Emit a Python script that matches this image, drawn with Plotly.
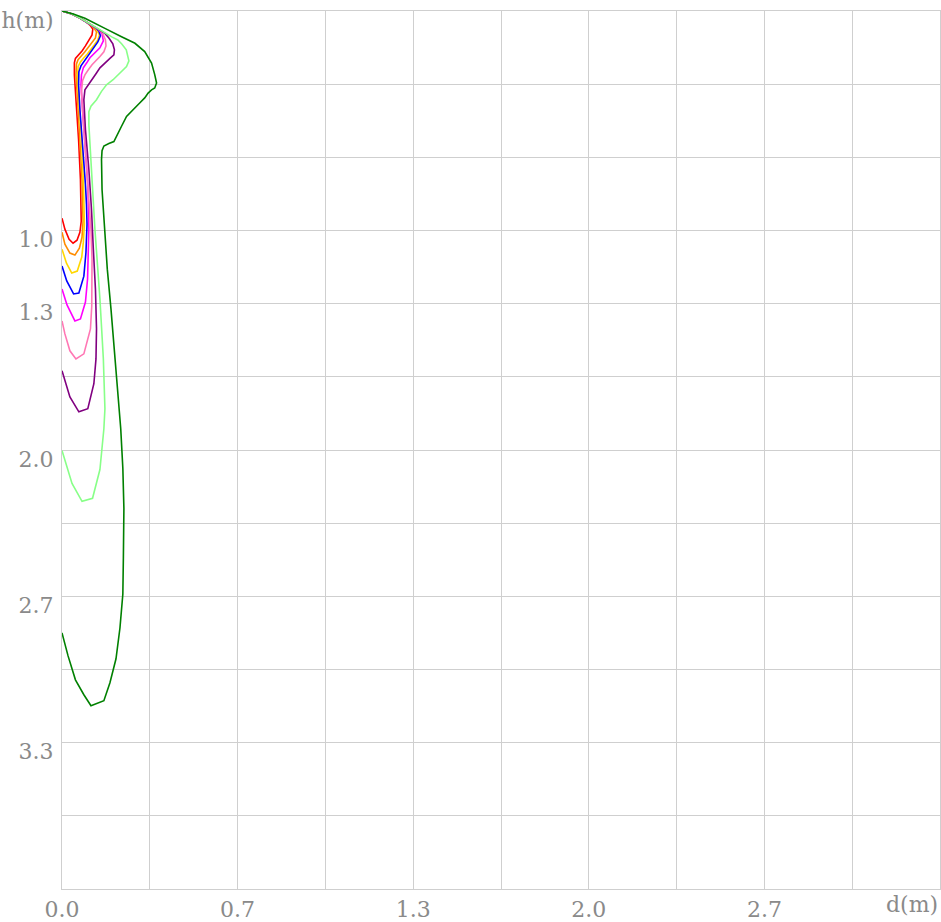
import plotly.graph_objects as go

# depth d (m) and height h (m) along each contour
red_d = [0, 0.038, 0.068, 0.091, 0.106, 0.117, 0.114, 0.102, 0.089, 0.076, 0.063, 0.051, 0.047, 0.047, 0.053, 0.063, 0.070, 0.072, 0.073, 0.068, 0.057, 0.042, 0.027, 0.011, 0]
red_h = [0, 0.014, 0.032, 0.048, 0.064, 0.082, 0.109, 0.136, 0.159, 0.182, 0.200, 0.216, 0.236, 0.290, 0.404, 0.586, 0.767, 0.881, 0.958, 1.008, 1.044, 1.058, 1.040, 0.994, 0.944]

orange_d = [0, 0.038, 0.068, 0.091, 0.106, 0.121, 0.131, 0.127, 0.114, 0.100, 0.087, 0.074, 0.061, 0.055, 0.053, 0.059, 0.068, 0.076, 0.078, 0.080, 0.076, 0.066, 0.049, 0.030, 0.011, 0]
orange_h = [0, 0.014, 0.032, 0.048, 0.061, 0.077, 0.095, 0.123, 0.145, 0.168, 0.186, 0.204, 0.222, 0.241, 0.291, 0.404, 0.586, 0.767, 0.881, 0.958, 1.031, 1.081, 1.112, 1.103, 1.062, 1.008]

gold_d = [0, 0.038, 0.068, 0.091, 0.106, 0.121, 0.134, 0.142, 0.136, 0.123, 0.110, 0.097, 0.083, 0.070, 0.061, 0.059, 0.064, 0.074, 0.081, 0.083, 0.085, 0.081, 0.075, 0.058, 0.037, 0.017, 0]
gold_h = [0, 0.014, 0.032, 0.048, 0.061, 0.073, 0.089, 0.109, 0.132, 0.154, 0.177, 0.195, 0.213, 0.232, 0.254, 0.313, 0.404, 0.586, 0.767, 0.881, 0.972, 1.053, 1.121, 1.185, 1.194, 1.149, 1.085]

blue_d = [0, 0.038, 0.068, 0.091, 0.106, 0.125, 0.140, 0.146, 0.136, 0.123, 0.110, 0.097, 0.083, 0.072, 0.064, 0.063, 0.068, 0.080, 0.089, 0.093, 0.095, 0.091, 0.083, 0.064, 0.044, 0.018, 0]
blue_h = [0, 0.014, 0.032, 0.048, 0.061, 0.075, 0.091, 0.113, 0.141, 0.163, 0.186, 0.209, 0.232, 0.250, 0.277, 0.336, 0.449, 0.631, 0.790, 0.881, 0.972, 1.099, 1.208, 1.285, 1.289, 1.230, 1.162]

magenta_d = [0, 0.038, 0.068, 0.091, 0.106, 0.125, 0.140, 0.152, 0.157, 0.144, 0.125, 0.106, 0.094, 0.081, 0.074, 0.072, 0.078, 0.089, 0.098, 0.100, 0.102, 0.097, 0.089, 0.070, 0.049, 0.019, 0]
magenta_h = [0, 0.014, 0.032, 0.048, 0.061, 0.075, 0.086, 0.104, 0.136, 0.168, 0.191, 0.213, 0.236, 0.259, 0.290, 0.336, 0.449, 0.631, 0.790, 0.881, 0.994, 1.221, 1.326, 1.403, 1.412, 1.339, 1.267]

pink_d = [0, 0.038, 0.068, 0.091, 0.106, 0.125, 0.144, 0.155, 0.165, 0.167, 0.159, 0.144, 0.129, 0.114, 0.100, 0.087, 0.078, 0.074, 0.080, 0.091, 0.102, 0.110, 0.114, 0.113, 0.108, 0.083, 0.053, 0.030, 0.011, 0]
pink_h = [0, 0.014, 0.032, 0.048, 0.061, 0.075, 0.088, 0.104, 0.132, 0.159, 0.186, 0.207, 0.225, 0.245, 0.268, 0.291, 0.318, 0.368, 0.495, 0.677, 0.858, 0.994, 1.131, 1.344, 1.448, 1.562, 1.585, 1.548, 1.471, 1.412]

purple_d = [0, 0.038, 0.068, 0.091, 0.106, 0.125, 0.144, 0.163, 0.178, 0.193, 0.199, 0.197, 0.182, 0.163, 0.144, 0.129, 0.114, 0.100, 0.087, 0.083, 0.089, 0.102, 0.112, 0.119, 0.127, 0.131, 0.129, 0.121, 0.098, 0.064, 0.030, 0]
purple_h = [0, 0.014, 0.032, 0.048, 0.061, 0.075, 0.088, 0.102, 0.123, 0.150, 0.177, 0.200, 0.216, 0.236, 0.259, 0.286, 0.313, 0.336, 0.359, 0.404, 0.540, 0.722, 0.904, 1.085, 1.267, 1.448, 1.585, 1.698, 1.812, 1.826, 1.758, 1.639]

lightgreen_d = [0, 0.038, 0.068, 0.091, 0.106, 0.125, 0.144, 0.163, 0.189, 0.212, 0.227, 0.244, 0.254, 0.245, 0.232, 0.213, 0.194, 0.169, 0.150, 0.131, 0.110, 0.102, 0.102, 0.114, 0.125, 0.144, 0.157, 0.163, 0.159, 0.144, 0.116, 0.076, 0.038, 0]
lightgreen_h = [0, 0.014, 0.032, 0.048, 0.061, 0.075, 0.088, 0.102, 0.118, 0.132, 0.150, 0.177, 0.227, 0.253, 0.268, 0.291, 0.313, 0.336, 0.366, 0.404, 0.434, 0.459, 0.518, 0.767, 0.994, 1.312, 1.585, 1.812, 1.903, 2.089, 2.220, 2.234, 2.152, 2.002]

green_d = [0, 0.043, 0.087, 0.112, 0.163, 0.226, 0.277, 0.314, 0.340, 0.352, 0.359, 0.352, 0.340, 0.327, 0.314, 0.295, 0.277, 0.245, 0.226, 0.208, 0.197, 0.178, 0.159, 0.152, 0.150, 0.152, 0.161, 0.172, 0.186, 0.199, 0.212, 0.223, 0.231, 0.235, 0.233, 0.231, 0.220, 0.205, 0.182, 0.159, 0.110, 0.083, 0.051, 0.023, 0]
green_h = [0, 0.014, 0.033, 0.049, 0.079, 0.117, 0.147, 0.185, 0.237, 0.290, 0.328, 0.351, 0.359, 0.374, 0.396, 0.419, 0.442, 0.480, 0.525, 0.572, 0.595, 0.604, 0.615, 0.636, 0.677, 0.813, 0.994, 1.176, 1.358, 1.539, 1.721, 1.903, 2.084, 2.266, 2.493, 2.656, 2.811, 2.951, 3.060, 3.142, 3.165, 3.115, 3.047, 2.938, 2.833]

series = [
    ("red", red_d, red_h),
    ("#FF8C00", orange_d, orange_h),
    ("#FFD700", gold_d, gold_h),
    ("#0000FF", blue_d, blue_h),
    ("#FF00FF", magenta_d, magenta_h),
    ("#FF77B4", pink_d, pink_h),
    ("#800080", purple_d, purple_h),
    ("#88FF88", lightgreen_d, lightgreen_h),
    ("#008000", green_d, green_h),
]

x_tickvals = [k / 3 for k in range(11)]
x_ticktext = ["0.0", "", "0.7", "", "1.3", "", "2.0", "", "2.7", "", ""]
y_tickvals = [k / 3 for k in range(13)]
y_ticktext = ["h(m)", "", "", "1.0", "1.3", "", "2.0", "", "2.7", "", "3.3", "", ""]

FONT = dict(family="DejaVu Serif", size=22, color="#8a8a8a")
GRID = "#cfcfcf"

fig = go.Figure()
for color, d, h in series:
    fig.add_trace(go.Scatter(x=d, y=h, mode="lines",
                             line=dict(color=color, width=1.6),
                             showlegend=False, hoverinfo="skip"))

fig.update_layout(
    width=941, height=922,
    margin=dict(l=62, r=0, t=11, b=30),
    plot_bgcolor="white", paper_bgcolor="white",
    font=FONT,
    xaxis=dict(range=[0, 10 / 3], tickmode="array", tickvals=x_tickvals, ticktext=x_ticktext,
               showgrid=True, gridcolor=GRID, gridwidth=1, zeroline=False,
               showline=True, linecolor=GRID, linewidth=1, mirror=True,
               ticks="", tickfont=FONT, ticklabelstandoff=1),
    yaxis=dict(range=[4, 0], tickmode="array", tickvals=y_tickvals, ticktext=y_ticktext,
               showgrid=True, gridcolor=GRID, gridwidth=1, zeroline=False,
               showline=True, linecolor=GRID, linewidth=1, mirror=True,
               ticks="", tickfont=FONT, ticklabelshift=-9, ticklabelstandoff=3),
    annotations=[dict(text="d(m)", xref="paper", yref="paper", x=1, y=0,
                      xanchor="right", yanchor="top", yshift=-1, showarrow=False, font=FONT)],
)

fig.write_html("out.html", config={"displayModeBar": False},
               post_script="document.body.style.margin='0px';document.body.style.overflow='hidden';")
